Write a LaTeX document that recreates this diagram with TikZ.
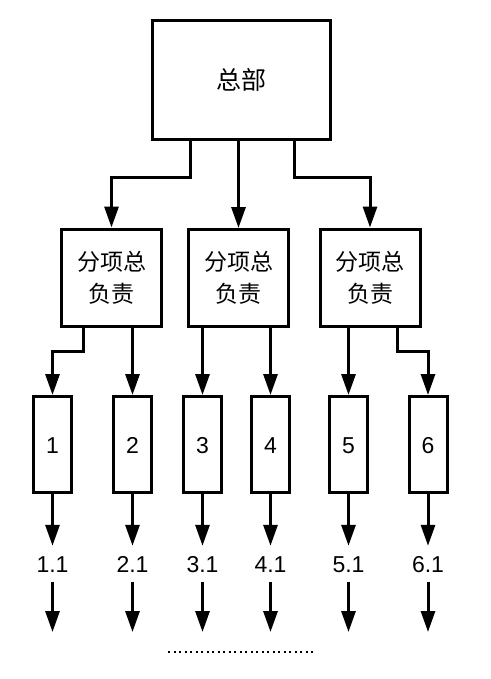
\documentclass[tikz,border=0pt]{standalone}
\usepackage{fontspec}
\setmainfont{Liberation Sans}
\newfontfamily\cjk{Noto Sans CJK SC}
\usetikzlibrary{arrows.meta}

\begin{document}
\begin{tikzpicture}[
    x=1pt, y=-1pt,
    hqbox/.style={draw=black, line width=3pt, minimum width=178pt, minimum height=119pt, font=\fontsize{25}{32}\selectfont\cjk},
    subbox/.style={draw=black, line width=3pt, minimum width=100pt, minimum height=97pt, align=center, font=\fontsize{23}{32}\selectfont\cjk},
    taskbox/.style={draw=black, line width=3pt, minimum width=38pt, minimum height=96pt, inner sep=0pt, text height=17pt, text depth=0pt, font=\fontsize{23}{28}\selectfont},
    steplabel/.style={inner sep=0pt, minimum height=36pt, text height=17pt, text depth=0pt, font=\fontsize{23}{28}\selectfont},
    flowarrow/.style={draw=black, line width=3pt, -{Triangle[length=21pt, width=14pt]}},
    moreline/.style={draw=black, line width=2pt, dash pattern=on 2pt off 3.5pt}
]

\useasboundingbox[fill=white] (0,0) rectangle (490,679);

\node[hqbox] (hq) at (241.5,80) {总部};

\node[subbox] (subA) at (111.5,277.5) {分项总\\负责};
\node[subbox] (subB) at (238.5,278) {分项总\\负责};
\node[subbox] (subC) at (370,277.5) {分项总\\负责};

\foreach \i/\x in {1/52.5, 2/132.5, 3/202.5, 4/270.5, 5/348.5, 6/428}{
    \node[taskbox] (task\i) at (\x,444.5) {\i};
    \node[steplabel] (next\i) at (\x,564) {\i.1};
    \coordinate (end\i) at (\x,632);
    \draw[flowarrow] (task\i) -- (next\i);
    \draw[flowarrow] (next\i) -- (end\i);
}

% head office to the three leads
\draw[flowarrow] ([xshift=-51pt]hq.south) -- ++(0,36) -| (subA.north);
\draw[flowarrow] (hq.south -| subB.north) -- (subB.north);
\draw[flowarrow] ([xshift=52.5pt]hq.south) -- ++(0,36) -| (subC.north);

% leads to tasks
\draw[flowarrow] ([xshift=-28.5pt]subA.south) -- ++(0,24) -| (task1.north);
\draw[flowarrow] (subA.south -| task2.north) -- (task2.north);
\draw[flowarrow] (subB.south -| task3.north) -- (task3.north);
\draw[flowarrow] (subB.south -| task4.north) -- (task4.north);
\draw[flowarrow] (subC.south -| task5.north) -- (task5.north);
\draw[flowarrow] ([xshift=27pt]subC.south) -- ++(0,24) -| (task6.north);

\draw[moreline] (168,652) -- (315,652);

\end{tikzpicture}
\end{document}
